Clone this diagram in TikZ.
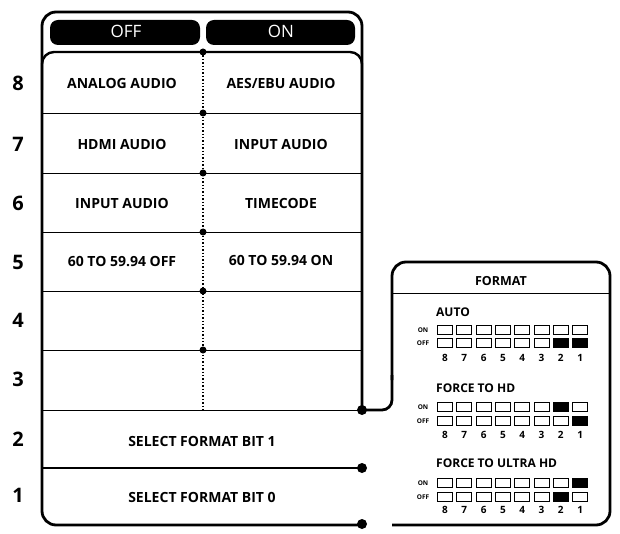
\documentclass[tikz,border=0pt]{standalone}
\usepackage{fontspec}
\setmainfont{Open Sans}
\begin{document}
\begin{tikzpicture}[x=1pt,y=-1pt,
  lbl/.style={font=\bfseries\fontsize{14}{16}\selectfont},
  num/.style={font=\bfseries\fontsize{20}{22}\selectfont},
  tab/.style={font=\fontsize{17}{19}\selectfont,text=white},
  sw/.style={draw,line width=1pt,minimum width=15pt,minimum height=9pt,inner sep=0pt},
  tiny/.style={font=\bfseries\fontsize{6.5}{7}\selectfont},
  dg/.style={font=\bfseries\fontsize{10}{11}\selectfont},
  ttl/.style={font=\bfseries\fontsize{12}{13}\selectfont,inner sep=0pt,anchor=west},
  dotc/.style={circle,fill,inner sep=0pt,minimum size=10pt}]
\useasboundingbox (0,0) rectangle (620,534);
% outer frame (right side open below row 3)
\draw[line width=2.8pt,rounded corners=14pt] (362,410) -- (362,12) -- (42,12) -- (42,525) -- (362,525);
% tabs
\fill[rounded corners=8pt] (50,45) -- (50,20) -- (200,20) -- (200,45) -- cycle;
\fill[rounded corners=8pt] (206,45) -- (206,20) -- (355,20) -- (355,45) -- cycle;
\node[tab] (off) at (126,31) {OFF};
\node[tab] (on) at (281,31) {ON};
% inner top
\draw[line width=2.4pt,rounded corners=12pt] (42,90) -- (42,52) -- (362,52) -- (362,90);
% row lines
\foreach \y in {113,173,232,291,350,410}{\draw[line width=0.7pt] (42,\y) -- (362,\y);}
\draw[dotted,line width=1.4pt] (203,52) -- (203,410);
\foreach \y [count=\i] in {52,113,173,232,291,350}{\node[dotc,minimum size=7pt] (d\i) at (203,\y) {};}
\draw[line width=2.6pt] (42,468) -- (362,468);
\node[dotc] (p2) at (362,468) {};
\node[dotc] (p3) at (362,410) {};
\node[dotc] (p1) at (362,524) {};
% labels
\node[lbl] (a8) at (122,83) {ANALOG AUDIO};
\node[lbl] (b8) at (281,83) {AES/EBU AUDIO};
\node[lbl] (a7) at (122,144) {HDMI AUDIO};
\node[lbl] (b7) at (281,144) {INPUT AUDIO};
\node[lbl] (a6) at (122,203) {INPUT AUDIO};
\node[lbl] (b6) at (281,203) {TIMECODE};
\node[lbl] (a5) at (122,262) {60 TO 59.94 OFF};
\node[lbl] (b5) at (281,261) {60 TO 59.94 ON};
\node[lbl] (s1) at (202,441) {SELECT FORMAT BIT 1};
\node[lbl] (s0) at (202,497) {SELECT FORMAT BIT 0};
\foreach \n/\y in {8/83,7/144,6/203,5/262,4/320,3/379,2/439,1/495}{\node[num] (n\n) at (18,\y) {\n};}
% format panel
\draw[line width=2.8pt,rounded corners=14pt] (392,380) -- (392,262) -- (610,262) -- (610,525) -- (392,525);
\draw[line width=2.8pt,rounded corners=10pt] (p3.center) -- (392,410) -- (392,375);
\draw[line width=0.7pt] (392,293) -- (610,293);
\node[font=\bfseries\fontsize{12.5}{14}\selectfont] (ft) at (501,281) {FORMAT};
% switch groups
\foreach \t/\ty/\yo/\ya/\yb/\k in {AUTO/312/330/343/358/0, FORCE TO HD/388/407/421/435/1, FORCE TO ULTRA HD/463/483/497/510/2}{
  \node[ttl] (t\k) at (436,\ty) {\t};
  \node[tiny] (on\k) at (423,\yo) {ON};
  \node[tiny] (of\k) at (423,\ya) {OFF};
  \foreach \i in {0,...,7}{
    \pgfmathtruncatemacro{\lab}{8-\i}
    \node[sw] (u\k\i) at (445+19.3*\i,\yo) {};
    \node[sw] (l\k\i) at (445+19.3*\i,\ya) {};
    \node[dg] (g\k\i) at (445+19.3*\i,\yb) {\lab};
  }
}
\fill (l06.south west) rectangle (l06.north east);
\fill (l07.south west) rectangle (l07.north east);
\fill (u16.south west) rectangle (u16.north east);
\fill (l17.south west) rectangle (l17.north east);
\fill (u27.south west) rectangle (u27.north east);
\fill (l26.south west) rectangle (l26.north east);
\end{tikzpicture}
\end{document}
